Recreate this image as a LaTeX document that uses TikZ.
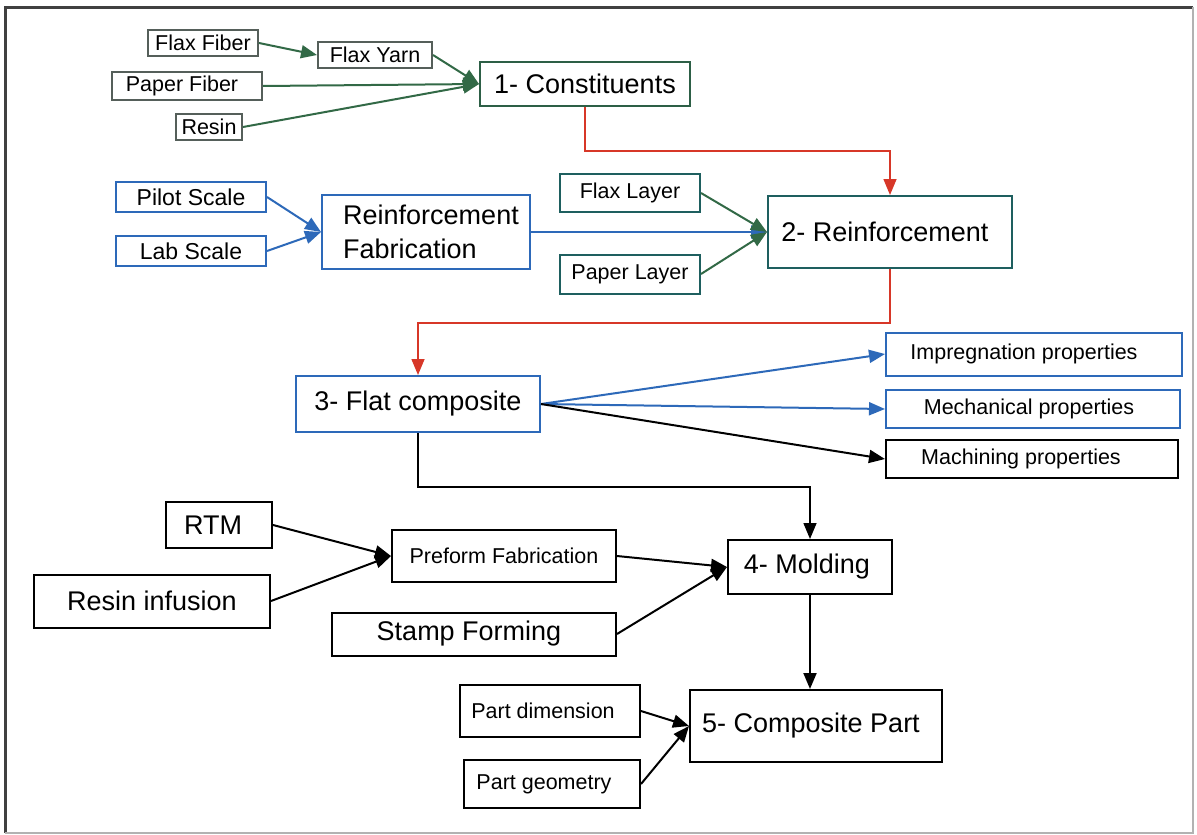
\documentclass[tikz,border=0pt]{standalone}
\usepackage{fontspec}
\setmainfont{Liberation Sans}
\usetikzlibrary{arrows.meta}
\definecolor{grayb}{RGB}{85,95,90}
\definecolor{greenb}{RGB}{45,95,70}
\definecolor{greenar}{RGB}{50,105,70}
\definecolor{blueC}{RGB}{45,105,185}
\definecolor{tealC}{RGB}{30,95,95}
\definecolor{redC}{RGB}{215,55,40}
\begin{document}
\begin{tikzpicture}[x=1pt,y=-1pt,
  box/.style={draw, line width=2pt, inner sep=0pt, fill=white},
  big/.style={font=\fontsize{27}{34}\selectfont},
  small/.style={font=\fontsize{21.5}{26}\selectfont},
  arr/.style={line width=2pt, -{Triangle[length=16pt,width=13pt]}},
]
\useasboundingbox (0,0) rectangle (1197,835);
\fill[white] (0,0) rectangle (1197,835);
% frame
\draw[line width=3pt, black!75] (5,833) -- (5,7) -- (1193,7);
\draw[line width=1.5pt, gray!60] (1193,7) -- (1193,833) -- (5,833);

% row 1
\node[box, small, draw=grayb, minimum width=110pt, minimum height=26pt] (flaxfiber) at (203,43) {Flax Fiber};
\node[box, small, draw=grayb, minimum width=114pt, minimum height=26pt] (flaxyarn) at (375,55) {Flax Yarn};
\node[box, small, draw=grayb, minimum width=150pt, minimum height=28pt] (paperfiber) at (187,86) {Paper Fiber\hspace*{10pt}};
\node[box, small, draw=grayb, minimum width=66pt, minimum height=26pt] (resin) at (209,127) {Resin};
\node[box, big, draw=greenb, minimum width=210pt, minimum height=44pt] (const) at (585,84) {1- Constituents};

% row 2
\node[box, font=\fontsize{23}{26}\selectfont, draw=blueC, minimum width=150pt, minimum height=30pt] (pilot) at (191,197) {Pilot Scale};
\node[box, font=\fontsize{23}{26}\selectfont, draw=blueC, minimum width=150pt, minimum height=30pt] (lab) at (191,251) {Lab Scale};
\node[box, big, draw=blueC, minimum width=208pt, minimum height=74pt, align=left] (fab) at (426,232) {\hspace*{10pt}Reinforcement\\\hspace*{10pt}Fabrication};
\node[box, small, draw=tealC, minimum width=140pt, minimum height=38pt] (flaxlayer) at (630,193) {Flax Layer};
\node[box, small, draw=tealC, minimum width=140pt, minimum height=39pt] (paperlayer) at (630,274) {Paper Layer};
\node[box, big, draw=tealC, minimum width=244pt, minimum height=72pt] (reinf) at (890,232) {2- Reinforcement\hspace*{10pt}};

% row 3
\node[box, big, draw=blueC, minimum width=244pt, minimum height=56pt] (flat) at (418,404) {3- Flat composite};
\node[box, small, draw=blueC, minimum width=296pt, minimum height=43pt] (imp) at (1034,354) {Impregnation properties\hspace*{20pt}};
\node[box, small, draw=blueC, minimum width=294pt, minimum height=38pt] (mech) at (1033,409) {Mechanical properties\hspace*{8pt}};
\node[box, small, draw=black, minimum width=292pt, minimum height=38pt] (mach) at (1032,459) {Machining properties\hspace*{22pt}};

% row 4
\node[box, big, minimum width=106pt, minimum height=46pt] (rtm) at (219,525) {RTM\hspace*{12pt}};
\node[box, small, minimum width=224pt, minimum height=52pt] (preform) at (504,556) {Preform Fabrication};
\node[box, big, minimum width=236pt, minimum height=53pt] (resininf) at (152,601) {Resin infusion};
\node[box, big, minimum width=164pt, minimum height=54pt] (mold) at (810,567) {4- Molding\hspace*{6pt}};
\node[box, big, minimum width=284pt, minimum height=43pt] (stamp) at (474,634) {Stamp Forming\hspace*{10pt}};

% row 5
\node[box, small, minimum width=180pt, minimum height=52pt] (partdim) at (550,711) {Part dimension\hspace*{14pt}};
\node[box, big, minimum width=252pt, minimum height=72pt] (compart) at (816,726) {5- Composite Part\hspace*{10pt}};
\node[box, small, minimum width=176pt, minimum height=48pt] (partgeom) at (552,784) {Part geometry\hspace*{16pt}};

% connectors
\draw[arr, greenar] (flaxfiber.east) -- (flaxyarn.west);
\draw[arr, greenar] (flaxyarn.east) -- (const.west);
\draw[arr, greenar] (paperfiber.east) -- (const.west);
\draw[arr, greenar] (resin.east) -- (const.west);
\draw[arr, redC, line width=1.5pt] (const.south) -- ++(0,44) -| (reinf.north);

\draw[arr, blueC] (pilot.east) -- (fab.west);
\draw[arr, blueC] (lab.east) -- (fab.west);
\draw[arr, blueC] (fab.east) -- (reinf.west);
\draw[arr, greenar] (flaxlayer.east) -- (reinf.west);
\draw[arr, greenar] (paperlayer.east) -- (reinf.west);
\draw[arr, redC, line width=1.5pt] (reinf.south) -- ++(0,54) -| (flat.north);

\draw[arr, blueC] (flat.east) -- (imp.west);
\draw[arr, blueC] (flat.east) -- (mech.west);
\draw[arr, black] (flat.east) -- (mach.west);
\draw[arr, black, line width=1.5pt] (flat.south) -- ++(0,54) -| (mold.north);

\draw[arr] (rtm.east) -- (preform.west);
\draw[arr] (resininf.east) -- (preform.west);
\draw[arr] (preform.east) -- (mold.west);
\draw[arr] (stamp.east) -- (mold.west);
\draw[arr] (mold.south) -- (mold.south |- compart.north);
\draw[arr] (partdim.east) -- (compart.west);
\draw[arr] (partgeom.east) -- (compart.west);
\end{tikzpicture}
\end{document}
